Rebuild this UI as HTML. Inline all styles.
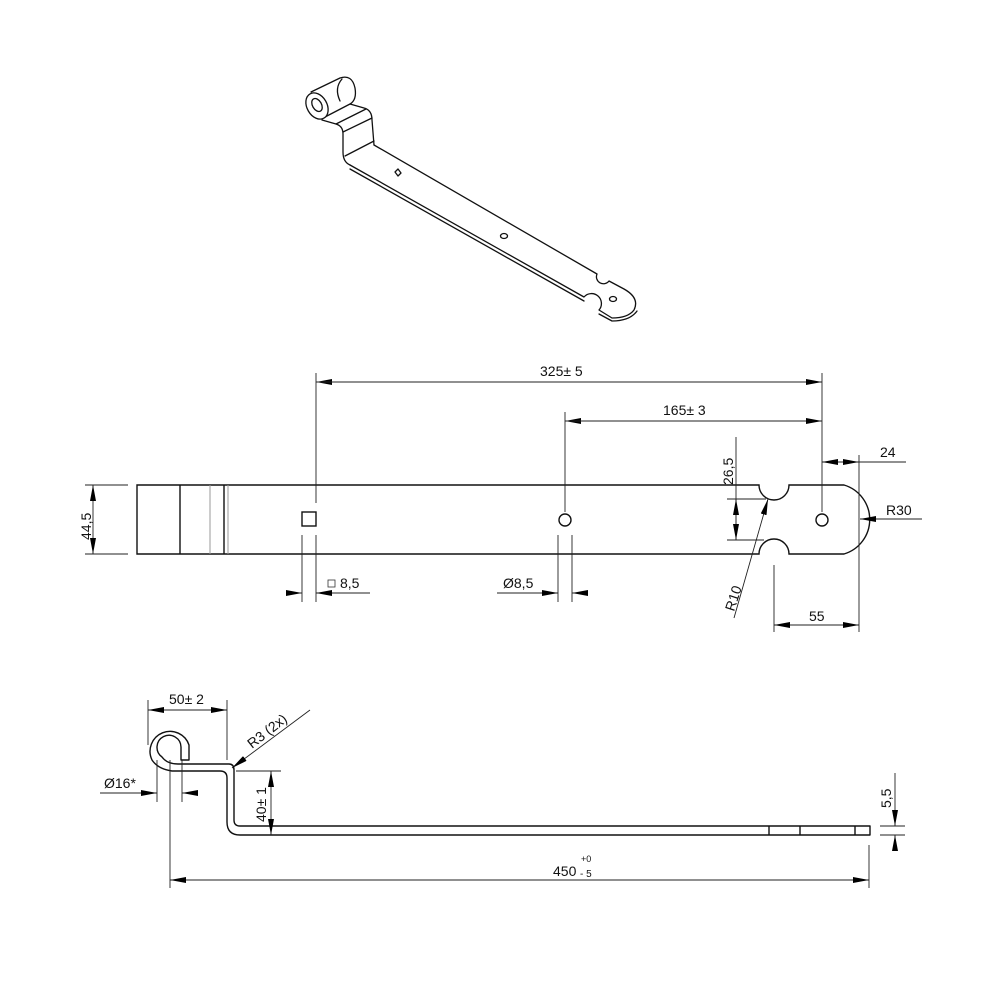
<!DOCTYPE html>
<html><head><meta charset="utf-8"><style>
html,body{margin:0;padding:0;background:#fff;}
svg{display:block;}
text{font-family:"Liberation Sans",sans-serif;font-size:14px;fill:#111;}
</style></head><body>
<svg width="1000" height="1000" viewBox="0 0 1000 1000" xmlns="http://www.w3.org/2000/svg">
<defs>
<marker id="a" viewBox="0 0 16 6" refX="16" refY="3" markerWidth="16" markerHeight="6" markerUnits="userSpaceOnUse" orient="auto"><path d="M0,0 L16,3 L0,6 Z" fill="#000"/></marker>
</defs>

<!-- ISO VIEW -->
<g fill="none" stroke="#111" stroke-width="1.3" stroke-linejoin="round" stroke-linecap="round">
  <path d="M311,92 L340,78 Q352,74 355,88 Q357,100 350,104 L325,117"/>
  <path d="M342,79 Q334,88 340,101"/>
  <ellipse cx="317" cy="106" rx="10" ry="14" transform="rotate(-30 317 106)" fill="#fff"/>
  <ellipse cx="317" cy="105" rx="4.5" ry="7" transform="rotate(-30 317 105)"/>
  <path d="M350,104 L364,108 Q372,110 372,120 L374,145"/>
  <path d="M322,120 L336,124 Q343,126 343,134 L343,152 Q343,162 350,165"/>
  <path d="M336,124 L366,109"/>
  <path d="M343,132 L372,118"/>
  <path d="M345,156 L374,141"/>
  <path d="M374,145 L597,274 A7,7 0 0 0 609,281 L624,289 Q640,298 634,310 Q628,318 612,318 L599,310 A8,8 0 0 0 584,297 L350,165"/>
  <path d="M350,169 L584,301 M599,314 L612,321 Q630,321 637,311"/>
  <path d="M395,172 L398,169 L401,173 L398,176 Z"/>
  <ellipse cx="504" cy="236" rx="3.5" ry="2.5"/>
  <ellipse cx="613" cy="299" rx="3.5" ry="2.5"/>
</g>

<!-- FRONT VIEW -->
<g fill="none" stroke="#111" stroke-width="1.4">
  <path d="M137,485 L759,485 A15,15 0 0 0 789,485 L844,485 A36,36 0 0 1 844,554 L789,554 A15,15 0 0 0 759,554 L137,554 Z"/>
  <line x1="180" y1="485" x2="180" y2="554"/>
  <line x1="224" y1="485" x2="224" y2="554"/>
  <rect x="302" y="512" width="14" height="14"/>
  <circle cx="565" cy="520" r="6"/>
  <circle cx="822" cy="520" r="6"/>
</g>
<g fill="none" stroke="#999" stroke-width="1">
  <line x1="210" y1="485" x2="210" y2="554"/>
  <line x1="228" y1="485" x2="228" y2="554"/>
</g>
<g stroke="#222" stroke-width="0.9" fill="none">
  <line x1="316" y1="373" x2="316" y2="503"/>
  <line x1="822" y1="373" x2="822" y2="512"/>
  <line x1="320" y1="382" x2="316" y2="382" marker-end="url(#a)"/>
  <line x1="316" y1="382" x2="822" y2="382" marker-end="url(#a)"/>
  <line x1="565" y1="412" x2="565" y2="512"/>
  <line x1="822" y1="421" x2="565" y2="421" marker-end="url(#a)"/>
  <line x1="565" y1="421" x2="822" y2="421" marker-end="url(#a)"/>
  <line x1="859" y1="455" x2="859" y2="632"/>
  <line x1="906" y1="462" x2="822" y2="462"/>
  <line x1="840" y1="462" x2="822" y2="462" marker-end="url(#a)"/>
  <line x1="840" y1="462" x2="859" y2="462" marker-end="url(#a)"/>
  <line x1="922" y1="519" x2="860" y2="519" marker-end="url(#a)"/>
  <line x1="736" y1="437" x2="736" y2="540"/>
  <line x1="727" y1="499" x2="766" y2="499"/>
  <line x1="727" y1="540" x2="764" y2="540"/>
  <line x1="736" y1="520" x2="736" y2="499" marker-end="url(#a)"/>
  <line x1="736" y1="520" x2="736" y2="540" marker-end="url(#a)"/>
  <line x1="734" y1="618" x2="768" y2="499" marker-end="url(#a)"/>
  <line x1="774" y1="565" x2="774" y2="632"/>
  <line x1="816" y1="625" x2="774" y2="625" marker-end="url(#a)"/>
  <line x1="816" y1="625" x2="859" y2="625" marker-end="url(#a)"/>
  <line x1="85" y1="485" x2="128" y2="485"/>
  <line x1="85" y1="554" x2="128" y2="554"/>
  <line x1="93" y1="520" x2="93" y2="485" marker-end="url(#a)"/>
  <line x1="93" y1="520" x2="93" y2="554" marker-end="url(#a)"/>
  <line x1="302" y1="535" x2="302" y2="602"/>
  <line x1="316" y1="535" x2="316" y2="602"/>
  <line x1="286" y1="593" x2="302" y2="593" marker-end="url(#a)"/>
  <line x1="370" y1="593" x2="316" y2="593" marker-end="url(#a)"/>
  <line x1="558" y1="535" x2="558" y2="602"/>
  <line x1="572" y1="535" x2="572" y2="602"/>
  <line x1="497" y1="593" x2="558" y2="593" marker-end="url(#a)"/>
  <line x1="588" y1="593" x2="572" y2="593" marker-end="url(#a)"/>
</g>
<text x="540" y="376">325± 5</text>
<text x="663" y="415">165± 3</text>
<text x="880" y="457">24</text>
<text x="886" y="515">R30</text>
<text x="809" y="621">55</text>
<text x="0" y="0" transform="translate(733,485) rotate(-90)">26,5</text>
<text x="0" y="0" transform="translate(734,612) rotate(-72)">R10</text>
<text x="0" y="0" transform="translate(91,540) rotate(-90)">44,5</text>
<rect x="328" y="580" width="7" height="7" fill="none" stroke="#333" stroke-width="0.8"/>
<text x="340" y="588">8,5</text>
<text x="503" y="588">Ø8,5</text>

<!-- SIDE VIEW -->
<g fill="none" stroke="#111" stroke-width="1.4" stroke-linejoin="round">
  <path d="M189,745 L189,760 L181,760 L181,747 A12,12 0 1 0 162,757 Q167,764 178,764 L229,764 Q234,764 234,770 L234,820 Q234,826 240,826 L870,826 L870,835 L240,835 Q227,835 227,822 L227,778 Q227,771 220,771 L172,771 Q158,769 152,760 A20,20 0 1 1 189,745 Z"/>
  <line x1="769" y1="826" x2="769" y2="835"/>
  <line x1="800" y1="826" x2="800" y2="835"/>
  <line x1="855" y1="826" x2="855" y2="835"/>
</g>
<g stroke="#222" stroke-width="0.9" fill="none">
  <line x1="148" y1="700" x2="148" y2="745"/>
  <line x1="227" y1="700" x2="227" y2="760"/>
  <line x1="188" y1="710" x2="148" y2="710" marker-end="url(#a)"/>
  <line x1="188" y1="710" x2="227" y2="710" marker-end="url(#a)"/>
  <line x1="310" y1="710" x2="232" y2="768" marker-end="url(#a)"/>
  <line x1="157" y1="760" x2="157" y2="802"/>
  <line x1="182" y1="760" x2="182" y2="802"/>
  <line x1="100" y1="793" x2="157" y2="793" marker-end="url(#a)"/>
  <line x1="198" y1="793" x2="182" y2="793" marker-end="url(#a)"/>
  <line x1="236" y1="771" x2="281" y2="771"/>
  <line x1="271" y1="803" x2="271" y2="771" marker-end="url(#a)"/>
  <line x1="271" y1="803" x2="271" y2="835" marker-end="url(#a)"/>
  <line x1="170" y1="760" x2="170" y2="888"/>
  <line x1="869" y1="845" x2="869" y2="888"/>
  <line x1="520" y1="880" x2="170" y2="880" marker-end="url(#a)"/>
  <line x1="520" y1="880" x2="869" y2="880" marker-end="url(#a)"/>
  <line x1="880" y1="826" x2="905" y2="826"/>
  <line x1="880" y1="835" x2="905" y2="835"/>
  <line x1="895" y1="773" x2="895" y2="826" marker-end="url(#a)"/>
  <line x1="895" y1="851" x2="895" y2="835" marker-end="url(#a)"/>
</g>
<text x="169" y="704">50± 2</text>
<text x="0" y="0" transform="translate(252,749) rotate(-38)">R3 (2x)</text>
<text x="104" y="788">Ø16*</text>
<text x="0" y="0" transform="translate(266,822) rotate(-90)">40± 1</text>
<text x="553" y="876">450</text>
<text x="581" y="862" style="font-size:9px">+0</text>
<text x="580" y="877" style="font-size:10px">- 5</text>
<text x="0" y="0" transform="translate(891,808) rotate(-90)">5,5</text>
</svg>
</body></html>
